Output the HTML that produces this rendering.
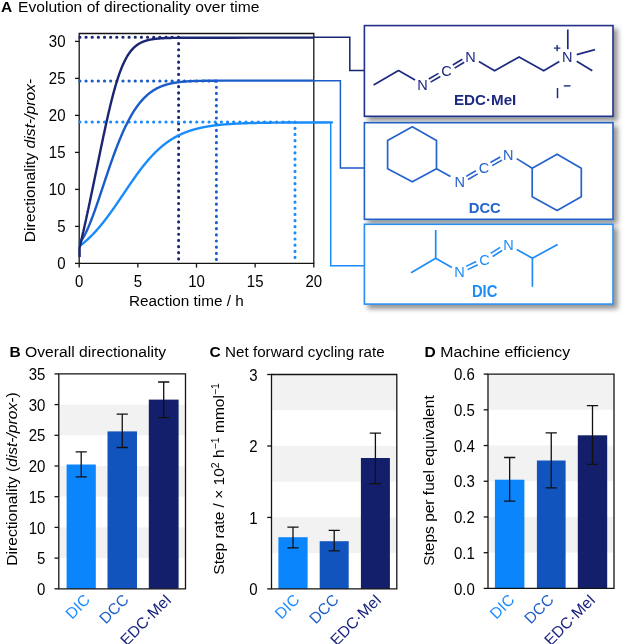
<!DOCTYPE html>
<html><head><meta charset="utf-8"><style>html,body{margin:0;padding:0;background:#fff;}svg{display:block;filter:blur(0.3px);}</style></head>
<body><svg width="627" height="644" viewBox="0 0 627 644">
<rect width="627" height="644" fill="#fff"/>
<text x="1" y="11.7" font-family="'Liberation Sans', sans-serif" font-size="15.5" fill="#000"><tspan font-weight="bold">A</tspan><tspan x="18" textLength="241.5" lengthAdjust="spacingAndGlyphs">Evolution of directionality over time</tspan></text>
<path d="M79.2,33.5V263.4H313.8V33.5Z" stroke="#141414" stroke-width="1.3" fill="none"/>
<path d="M79.8,37.33H178.6" stroke="#1a2573" stroke-width="3" stroke-linecap="round" stroke-dasharray="0.2 5.95" fill="none"/>
<path d="M178.6,37.33V262.4" stroke="#1a2573" stroke-width="3" stroke-linecap="round" stroke-dasharray="0.2 5.95" fill="none"/>
<path d="M79.8,80.99H216.4" stroke="#1a5cc8" stroke-width="3" stroke-linecap="round" stroke-dasharray="0.2 5.95" fill="none"/>
<path d="M216.4,80.99V262.4" stroke="#1a5cc8" stroke-width="3" stroke-linecap="round" stroke-dasharray="0.2 5.95" fill="none"/>
<path d="M79.8,122.06H295.0" stroke="#1a8cfa" stroke-width="3" stroke-linecap="round" stroke-dasharray="0.2 5.95" fill="none"/>
<path d="M295.0,122.06V262.4" stroke="#1a8cfa" stroke-width="3" stroke-linecap="round" stroke-dasharray="0.2 5.95" fill="none"/>
<path d="M79.60,246.09 L79.59,246.02 L79.68,245.96 L79.76,245.89 L79.85,245.83 L79.94,245.76 L80.03,245.69 L80.12,245.63 L80.21,245.56 L80.29,245.50 L80.38,245.43 L80.47,245.36 L80.56,245.30 L80.65,245.23 L80.74,245.16 L80.82,245.09 L80.91,245.03 L81.00,244.96 L81.09,244.89 L81.18,244.82 L81.26,244.75 L81.35,244.68 L81.44,244.62 L81.53,244.55 L81.62,244.48 L81.71,244.41 L81.79,244.34 L81.88,244.27 L81.97,244.20 L82.06,244.13 L82.15,244.06 L82.24,243.99 L82.32,243.92 L82.41,243.85 L82.50,243.78 L82.59,243.71 L82.68,243.64 L82.76,243.57 L82.85,243.50 L82.94,243.42 L83.03,243.35 L83.12,243.28 L83.21,243.21 L83.29,243.14 L83.38,243.06 L83.47,242.99 L83.56,242.92 L83.65,242.85 L83.74,242.77 L83.82,242.70 L83.91,242.63 L84.00,242.55 L84.09,242.48 L84.18,242.41 L84.26,242.33 L84.35,242.26 L84.44,242.18 L84.53,242.11 L84.62,242.03 L84.71,241.96 L84.79,241.88 L84.88,241.81 L84.97,241.73 L85.06,241.66 L85.15,241.58 L85.24,241.51 L85.32,241.43 L85.41,241.35 L85.50,241.28 L85.59,241.20 L85.68,241.12 L85.76,241.05 L85.85,240.97 L85.94,240.89 L86.03,240.82 L86.12,240.74 L86.21,240.66 L86.29,240.58 L86.38,240.50 L86.47,240.43 L86.56,240.35 L86.65,240.27 L86.74,240.19 L86.82,240.11 L86.91,240.03 L87.00,239.95 L87.09,239.87 L87.18,239.79 L87.26,239.71 L87.35,239.63 L87.44,239.55 L87.53,239.47 L87.62,239.39 L87.71,239.31 L87.79,239.23 L87.88,239.15 L87.97,239.07 L88.06,238.99 L88.15,238.90 L88.24,238.82 L88.32,238.74 L88.41,238.66 L88.50,238.58 L88.59,238.49 L88.68,238.41 L88.76,238.33 L88.85,238.24 L88.94,238.16 L89.03,238.08 L89.12,237.99 L89.21,237.91 L89.29,237.83 L89.38,237.74 L89.47,237.66 L89.56,237.57 L89.65,237.49 L89.74,237.40 L89.82,237.32 L89.91,237.23 L90.00,237.15 L90.10,237.05 L90.56,236.60 L91.02,236.15 L91.48,235.69 L91.94,235.22 L92.40,234.76 L92.86,234.28 L93.33,233.80 L93.79,233.32 L94.25,232.83 L94.71,232.34 L95.17,231.84 L95.63,231.34 L96.09,230.83 L96.55,230.32 L97.01,229.80 L97.47,229.28 L97.93,228.75 L98.39,228.22 L98.85,227.69 L99.31,227.15 L99.78,226.60 L100.24,226.05 L100.70,225.50 L101.16,224.94 L101.62,224.38 L102.08,223.81 L102.54,223.24 L103.00,222.66 L103.46,222.08 L103.92,221.50 L104.38,220.91 L104.84,220.32 L105.30,219.72 L105.76,219.12 L106.23,218.52 L106.69,217.91 L107.15,217.30 L107.61,216.69 L108.07,216.07 L108.53,215.44 L108.99,214.82 L109.45,214.19 L109.91,213.56 L110.37,212.92 L110.83,212.28 L111.29,211.64 L111.75,211.00 L112.21,210.35 L112.68,209.70 L113.14,209.04 L113.60,208.39 L114.06,207.73 L114.52,207.07 L114.98,206.41 L115.44,205.74 L115.90,205.07 L116.36,204.41 L116.82,203.74 L117.28,203.06 L117.74,202.39 L118.20,201.71 L118.66,201.04 L119.13,200.36 L119.59,199.68 L120.05,199.00 L120.51,198.32 L120.97,197.63 L121.43,196.95 L121.89,196.27 L122.35,195.58 L122.81,194.90 L123.27,194.22 L123.73,193.53 L124.19,192.85 L124.65,192.16 L125.11,191.48 L125.58,190.80 L126.04,190.11 L126.50,189.43 L126.96,188.75 L127.42,188.07 L127.88,187.39 L128.34,186.71 L128.80,186.03 L129.26,185.36 L129.72,184.68 L130.18,184.01 L130.64,183.34 L131.10,182.67 L131.56,182.00 L132.03,181.34 L132.49,180.68 L132.95,180.02 L133.41,179.36 L133.87,178.70 L134.33,178.05 L134.79,177.40 L135.25,176.75 L135.71,176.11 L136.17,175.46 L136.63,174.83 L137.09,174.19 L137.55,173.56 L138.02,172.93 L138.48,172.30 L138.94,171.68 L139.40,171.06 L139.86,170.45 L140.32,169.84 L140.78,169.23 L141.24,168.63 L141.70,168.03 L142.16,167.44 L142.62,166.85 L143.08,166.26 L143.54,165.68 L144.00,165.10 L144.47,164.53 L144.93,163.96 L145.39,163.39 L145.85,162.83 L146.31,162.28 L146.77,161.73 L147.23,161.18 L147.69,160.64 L148.15,160.10 L148.61,159.57 L149.07,159.04 L149.53,158.52 L149.99,158.00 L150.45,157.49 L150.92,156.98 L151.38,156.48 L151.84,155.99 L152.30,155.49 L152.76,155.01 L153.22,154.52 L153.68,154.05 L154.14,153.57 L154.60,153.11 L155.06,152.64 L155.52,152.19 L155.98,151.74 L156.44,151.29 L156.90,150.85 L157.37,150.41 L157.83,149.98 L158.29,149.55 L158.75,149.13 L159.21,148.71 L159.67,148.30 L160.13,147.89 L160.59,147.49 L161.05,147.10 L161.51,146.70 L161.97,146.32 L162.43,145.93 L162.89,145.56 L163.35,145.19 L163.82,144.82 L164.28,144.46 L164.74,144.10 L165.20,143.74 L165.66,143.40 L166.12,143.05 L166.58,142.71 L167.04,142.38 L167.50,142.05 L167.96,141.72 L168.42,141.40 L168.88,141.09 L169.34,140.78 L169.80,140.47 L170.27,140.16 L170.73,139.87 L171.19,139.57 L171.65,139.28 L172.11,139.00 L172.57,138.71 L173.03,138.44 L173.49,138.16 L173.95,137.89 L174.41,137.63 L174.87,137.37 L175.33,137.11 L175.79,136.86 L176.25,136.61 L176.72,136.36 L177.18,136.12 L177.64,135.88 L178.10,135.65 L178.56,135.42 L179.02,135.19 L179.48,134.97 L179.94,134.75 L180.40,134.53 L180.86,134.32 L181.32,134.11 L181.78,133.90 L182.24,133.70 L182.71,133.50 L183.17,133.30 L183.63,133.11 L184.09,132.92 L184.55,132.73 L185.01,132.54 L185.47,132.36 L185.93,132.18 L186.39,132.01 L186.85,131.84 L187.31,131.67 L187.77,131.50 L188.23,131.34 L188.69,131.18 L189.16,131.02 L189.62,130.86 L190.08,130.71 L190.54,130.56 L191.00,130.41 L191.46,130.27 L191.92,130.12 L192.38,129.98 L192.84,129.84 L193.30,129.71 L193.76,129.57 L194.22,129.44 L194.68,129.31 L195.14,129.19 L195.61,129.06 L196.07,128.94 L196.53,128.82 L196.99,128.70 L197.45,128.59 L197.91,128.47 L198.37,128.36 L198.83,128.25 L199.29,128.14 L199.75,128.04 L200.21,127.93 L200.67,127.83 L201.13,127.73 L201.59,127.63 L202.06,127.53 L202.52,127.44 L202.98,127.35 L203.44,127.25 L203.90,127.16 L204.36,127.08 L204.82,126.99 L205.28,126.90 L205.74,126.82 L206.20,126.74 L206.66,126.66 L207.12,126.58 L207.58,126.50 L208.04,126.42 L208.51,126.35 L208.97,126.27 L209.43,126.20 L209.89,126.13 L210.35,126.06 L210.81,125.99 L211.27,125.92 L211.73,125.86 L212.19,125.79 L212.65,125.73 L213.11,125.66 L213.57,125.60 L214.03,125.54 L214.49,125.48 L214.96,125.43 L215.42,125.37 L215.88,125.31 L216.34,125.26 L216.80,125.20 L217.26,125.15 L217.72,125.10 L218.18,125.05 L218.64,125.00 L219.10,124.95 L219.56,124.90 L220.02,124.85 L220.48,124.81 L220.94,124.76 L221.41,124.71 L221.87,124.67 L222.33,124.63 L222.79,124.59 L223.25,124.54 L223.71,124.50 L224.17,124.46 L224.63,124.42 L225.09,124.39 L225.55,124.35 L226.01,124.31 L226.47,124.27 L226.93,124.24 L227.39,124.20 L227.86,124.17 L228.32,124.13 L228.78,124.10 L229.24,124.07 L229.70,124.04 L230.16,124.01 L230.62,123.98 L231.08,123.95 L231.54,123.92 L232.00,123.89 L232.46,123.86 L232.92,123.83 L233.38,123.80 L233.85,123.78 L234.31,123.75 L234.77,123.72 L235.23,123.70 L235.69,123.67 L236.15,123.65 L236.61,123.62 L237.07,123.60 L237.53,123.58 L237.99,123.56 L238.45,123.53 L238.91,123.51 L239.37,123.49 L239.83,123.47 L240.30,123.45 L240.76,123.43 L241.22,123.41 L241.68,123.39 L242.14,123.37 L242.60,123.35 L243.06,123.33 L243.52,123.31 L243.98,123.30 L244.44,123.28 L244.90,123.26 L245.36,123.25 L245.82,123.23 L246.28,123.21 L246.75,123.20 L247.21,123.18 L247.67,123.17 L248.13,123.15 L248.59,123.14 L249.05,123.12 L249.51,123.11 L249.97,123.10 L250.43,123.08 L250.89,123.07 L251.35,123.06 L251.81,123.04 L252.27,123.03 L252.73,123.02 L253.20,123.01 L253.66,122.99 L254.12,122.98 L254.58,122.97 L255.04,122.96 L255.50,122.95 L255.96,122.94 L256.42,122.93 L256.88,122.92 L257.34,122.91 L257.80,122.90 L258.26,122.89 L258.72,122.88 L259.18,122.87 L259.65,122.86 L260.11,122.85 L260.57,122.84 L261.03,122.83 L261.49,122.83 L261.95,122.82 L262.41,122.81 L262.87,122.80 L263.33,122.79 L263.79,122.78 L264.25,122.78 L264.71,122.77 L265.17,122.76 L265.63,122.76 L266.10,122.75 L266.56,122.74 L267.02,122.73 L267.48,122.73 L267.94,122.72 L268.40,122.72 L268.86,122.71 L269.32,122.70 L269.78,122.70 L270.24,122.69 L270.70,122.69 L271.16,122.68 L271.62,122.67 L272.08,122.67 L272.55,122.66 L273.01,122.66 L273.47,122.65 L273.93,122.65 L274.39,122.64 L274.85,122.64 L275.31,122.63 L275.77,122.63 L276.23,122.62 L276.69,122.62 L277.15,122.61 L277.61,122.61 L278.07,122.61 L278.54,122.60 L279.00,122.60 L279.46,122.59 L279.92,122.59 L280.38,122.59 L280.84,122.58 L281.30,122.58 L281.76,122.58 L282.22,122.57 L282.68,122.57 L283.14,122.56 L283.60,122.56 L284.06,122.56 L284.52,122.55 L284.99,122.55 L285.45,122.55 L285.91,122.55 L286.37,122.54 L286.83,122.54 L287.29,122.54 L287.75,122.53 L288.21,122.53 L288.67,122.53 L289.13,122.53 L289.59,122.52 L290.05,122.52 L290.51,122.52 L290.97,122.52 L291.44,122.51 L291.90,122.51 L292.36,122.51 L292.82,122.51 L293.28,122.50 L293.74,122.50 L294.20,122.50 L294.66,122.50 L295.12,122.50 L295.58,122.49 L296.04,122.49 L296.50,122.49 L296.96,122.49 L297.42,122.49 L297.89,122.48 L298.35,122.48 L298.81,122.48 L299.27,122.48 L299.73,122.48 L300.19,122.47 L300.65,122.47 L301.11,122.47 L301.57,122.47 L302.03,122.47 L302.49,122.47 L302.95,122.47 L303.41,122.46 L303.87,122.46 L304.34,122.46 L304.80,122.46 L305.26,122.46 L305.72,122.46 L306.18,122.46 L306.64,122.45 L307.10,122.45 L307.56,122.45 L308.02,122.45 L308.48,122.45 L308.94,122.45 L309.40,122.45 L309.86,122.45 L310.32,122.45 L310.79,122.44 L311.25,122.44 L311.71,122.44 L332,122.4 L314,122.4" stroke="#1a8cfa" stroke-width="2.4" fill="none" stroke-linejoin="round"/>
<path d="M79.60,242.87 L79.59,242.78 L79.68,242.68 L79.76,242.57 L79.85,242.47 L79.94,242.37 L80.03,242.26 L80.12,242.16 L80.21,242.05 L80.29,241.94 L80.38,241.83 L80.47,241.71 L80.56,241.60 L80.65,241.49 L80.74,241.37 L80.82,241.25 L80.91,241.14 L81.00,241.02 L81.09,240.89 L81.18,240.77 L81.26,240.65 L81.35,240.52 L81.44,240.40 L81.53,240.27 L81.62,240.14 L81.71,240.01 L81.79,239.88 L81.88,239.75 L81.97,239.62 L82.06,239.48 L82.15,239.35 L82.24,239.21 L82.32,239.07 L82.41,238.93 L82.50,238.79 L82.59,238.65 L82.68,238.51 L82.76,238.37 L82.85,238.22 L82.94,238.07 L83.03,237.93 L83.12,237.78 L83.21,237.63 L83.29,237.48 L83.38,237.33 L83.47,237.18 L83.56,237.02 L83.65,236.87 L83.74,236.71 L83.82,236.55 L83.91,236.40 L84.00,236.24 L84.09,236.08 L84.18,235.92 L84.26,235.75 L84.35,235.59 L84.44,235.43 L84.53,235.26 L84.62,235.10 L84.71,234.93 L84.79,234.76 L84.88,234.59 L84.97,234.42 L85.06,234.25 L85.15,234.08 L85.24,233.90 L85.32,233.73 L85.41,233.56 L85.50,233.38 L85.59,233.20 L85.68,233.02 L85.76,232.85 L85.85,232.67 L85.94,232.48 L86.03,232.30 L86.12,232.12 L86.21,231.94 L86.29,231.75 L86.38,231.57 L86.47,231.38 L86.56,231.19 L86.65,231.01 L86.74,230.82 L86.82,230.63 L86.91,230.44 L87.00,230.24 L87.09,230.05 L87.18,229.86 L87.26,229.67 L87.35,229.47 L87.44,229.27 L87.53,229.08 L87.62,228.88 L87.71,228.68 L87.79,228.48 L87.88,228.28 L87.97,228.08 L88.06,227.88 L88.15,227.68 L88.24,227.48 L88.32,227.27 L88.41,227.07 L88.50,226.86 L88.59,226.66 L88.68,226.45 L88.76,226.24 L88.85,226.03 L88.94,225.82 L89.03,225.61 L89.12,225.40 L89.21,225.19 L89.29,224.98 L89.38,224.77 L89.47,224.55 L89.56,224.34 L89.65,224.12 L89.74,223.91 L89.82,223.69 L89.91,223.48 L90.00,223.26 L90.10,223.01 L90.56,221.86 L91.02,220.69 L91.48,219.50 L91.94,218.30 L92.40,217.08 L92.86,215.85 L93.33,214.61 L93.79,213.35 L94.25,212.07 L94.71,210.79 L95.17,209.50 L95.63,208.19 L96.09,206.88 L96.55,205.55 L97.01,204.22 L97.47,202.88 L97.93,201.53 L98.39,200.18 L98.85,198.82 L99.31,197.45 L99.78,196.08 L100.24,194.71 L100.70,193.33 L101.16,191.95 L101.62,190.57 L102.08,189.19 L102.54,187.80 L103.00,186.42 L103.46,185.03 L103.92,183.65 L104.38,182.27 L104.84,180.88 L105.30,179.50 L105.76,178.13 L106.23,176.75 L106.69,175.38 L107.15,174.01 L107.61,172.65 L108.07,171.29 L108.53,169.94 L108.99,168.59 L109.45,167.25 L109.91,165.91 L110.37,164.59 L110.83,163.26 L111.29,161.95 L111.75,160.65 L112.21,159.35 L112.68,158.06 L113.14,156.78 L113.60,155.51 L114.06,154.24 L114.52,152.99 L114.98,151.75 L115.44,150.52 L115.90,149.29 L116.36,148.08 L116.82,146.88 L117.28,145.69 L117.74,144.51 L118.20,143.35 L118.66,142.19 L119.13,141.05 L119.59,139.92 L120.05,138.80 L120.51,137.69 L120.97,136.59 L121.43,135.51 L121.89,134.44 L122.35,133.38 L122.81,132.34 L123.27,131.31 L123.73,130.29 L124.19,129.28 L124.65,128.29 L125.11,127.31 L125.58,126.34 L126.04,125.39 L126.50,124.45 L126.96,123.52 L127.42,122.61 L127.88,121.70 L128.34,120.82 L128.80,119.94 L129.26,119.08 L129.72,118.23 L130.18,117.40 L130.64,116.58 L131.10,115.77 L131.56,114.97 L132.03,114.19 L132.49,113.42 L132.95,112.66 L133.41,111.92 L133.87,111.19 L134.33,110.47 L134.79,109.76 L135.25,109.07 L135.71,108.39 L136.17,107.72 L136.63,107.06 L137.09,106.42 L137.55,105.79 L138.02,105.16 L138.48,104.56 L138.94,103.96 L139.40,103.37 L139.86,102.80 L140.32,102.24 L140.78,101.68 L141.24,101.14 L141.70,100.61 L142.16,100.10 L142.62,99.59 L143.08,99.09 L143.54,98.60 L144.00,98.13 L144.47,97.66 L144.93,97.20 L145.39,96.76 L145.85,96.32 L146.31,95.89 L146.77,95.48 L147.23,95.07 L147.69,94.67 L148.15,94.28 L148.61,93.90 L149.07,93.52 L149.53,93.16 L149.99,92.81 L150.45,92.46 L150.92,92.12 L151.38,91.79 L151.84,91.47 L152.30,91.15 L152.76,90.85 L153.22,90.55 L153.68,90.26 L154.14,89.97 L154.60,89.69 L155.06,89.42 L155.52,89.16 L155.98,88.90 L156.44,88.65 L156.90,88.41 L157.37,88.17 L157.83,87.94 L158.29,87.71 L158.75,87.50 L159.21,87.28 L159.67,87.07 L160.13,86.87 L160.59,86.68 L161.05,86.49 L161.51,86.30 L161.97,86.12 L162.43,85.94 L162.89,85.77 L163.35,85.61 L163.82,85.45 L164.28,85.29 L164.74,85.14 L165.20,84.99 L165.66,84.85 L166.12,84.71 L166.58,84.57 L167.04,84.44 L167.50,84.31 L167.96,84.19 L168.42,84.07 L168.88,83.95 L169.34,83.84 L169.80,83.73 L170.27,83.62 L170.73,83.52 L171.19,83.42 L171.65,83.32 L172.11,83.23 L172.57,83.14 L173.03,83.05 L173.49,82.97 L173.95,82.88 L174.41,82.80 L174.87,82.73 L175.33,82.65 L175.79,82.58 L176.25,82.51 L176.72,82.44 L177.18,82.38 L177.64,82.31 L178.10,82.25 L178.56,82.19 L179.02,82.13 L179.48,82.08 L179.94,82.03 L180.40,81.97 L180.86,81.92 L181.32,81.88 L181.78,81.83 L182.24,81.78 L182.71,81.74 L183.17,81.70 L183.63,81.66 L184.09,81.62 L184.55,81.58 L185.01,81.54 L185.47,81.51 L185.93,81.48 L186.39,81.44 L186.85,81.41 L187.31,81.38 L187.77,81.35 L188.23,81.32 L188.69,81.30 L189.16,81.27 L189.62,81.24 L190.08,81.22 L190.54,81.20 L191.00,81.17 L191.46,81.15 L191.92,81.13 L192.38,81.11 L192.84,81.09 L193.30,81.07 L193.76,81.05 L194.22,81.04 L194.68,81.02 L195.14,81.00 L195.61,80.99 L196.07,80.97 L196.53,80.96 L196.99,80.95 L197.45,80.93 L197.91,80.92 L198.37,80.91 L198.83,80.90 L199.29,80.89 L199.75,80.87 L200.21,80.86 L200.67,80.85 L201.13,80.84 L201.59,80.84 L202.06,80.83 L202.52,80.82 L202.98,80.81 L203.44,80.80 L203.90,80.79 L204.36,80.79 L204.82,80.78 L205.28,80.77 L205.74,80.77 L206.20,80.76 L206.66,80.76 L207.12,80.75 L207.58,80.75 L208.04,80.74 L208.51,80.74 L208.97,80.73 L209.43,80.73 L209.89,80.72 L210.35,80.72 L210.81,80.71 L211.27,80.71 L211.73,80.71 L212.19,80.70 L212.65,80.70 L213.11,80.70 L213.57,80.69 L214.03,80.69 L214.49,80.69 L214.96,80.68 L215.42,80.68 L215.88,80.68 L216.34,80.68 L216.80,80.68 L217.26,80.67 L217.72,80.67 L218.18,80.67 L218.64,80.67 L219.10,80.67 L219.56,80.66 L220.02,80.66 L220.48,80.66 L220.94,80.66 L221.41,80.66 L221.87,80.66 L222.33,80.66 L222.79,80.65 L223.25,80.65 L223.71,80.65 L224.17,80.65 L224.63,80.65 L225.09,80.65 L225.55,80.65 L226.01,80.65 L226.47,80.65 L226.93,80.65 L227.39,80.65 L227.86,80.64 L228.32,80.64 L228.78,80.64 L229.24,80.64 L229.70,80.64 L230.16,80.64 L230.62,80.64 L231.08,80.64 L231.54,80.64 L232.00,80.64 L232.46,80.64 L232.92,80.64 L233.38,80.64 L233.85,80.64 L234.31,80.64 L234.77,80.64 L235.23,80.64 L235.69,80.64 L236.15,80.64 L236.61,80.64 L237.07,80.64 L237.53,80.64 L237.99,80.63 L238.45,80.63 L238.91,80.63 L239.37,80.63 L239.83,80.63 L240.30,80.63 L240.76,80.63 L241.22,80.63 L241.68,80.63 L242.14,80.63 L242.60,80.63 L243.06,80.63 L243.52,80.63 L243.98,80.63 L244.44,80.63 L244.90,80.63 L245.36,80.63 L245.82,80.63 L246.28,80.63 L246.75,80.63 L247.21,80.63 L247.67,80.63 L248.13,80.63 L248.59,80.63 L249.05,80.63 L249.51,80.63 L249.97,80.63 L270,80.65 L314,80.65" stroke="#1a5cc8" stroke-width="2.4" fill="none" stroke-linejoin="round"/>
<path d="M79.60,257.00 L79.60,248.11 L79.59,247.74 L79.68,247.36 L79.76,246.99 L79.85,246.61 L79.94,246.24 L80.03,245.86 L80.12,245.48 L80.21,245.11 L80.29,244.73 L80.38,244.35 L80.47,243.97 L80.56,243.59 L80.65,243.21 L80.74,242.83 L80.82,242.45 L80.91,242.07 L81.00,241.69 L81.09,241.31 L81.18,240.93 L81.26,240.54 L81.35,240.16 L81.44,239.78 L81.53,239.40 L81.62,239.01 L81.71,238.63 L81.79,238.24 L81.88,237.86 L81.97,237.47 L82.06,237.09 L82.15,236.70 L82.24,236.31 L82.32,235.93 L82.41,235.54 L82.50,235.15 L82.59,234.76 L82.68,234.38 L82.76,233.99 L82.85,233.60 L82.94,233.21 L83.03,232.82 L83.12,232.43 L83.21,232.04 L83.29,231.65 L83.38,231.25 L83.47,230.86 L83.56,230.47 L83.65,230.08 L83.74,229.68 L83.82,229.29 L83.91,228.90 L84.00,228.50 L84.09,228.11 L84.18,227.71 L84.26,227.32 L84.35,226.92 L84.44,226.53 L84.53,226.13 L84.62,225.73 L84.71,225.34 L84.79,224.94 L84.88,224.54 L84.97,224.14 L85.06,223.74 L85.15,223.34 L85.24,222.94 L85.32,222.54 L85.41,222.14 L85.50,221.74 L85.59,221.34 L85.68,220.94 L85.76,220.54 L85.85,220.14 L85.94,219.74 L86.03,219.33 L86.12,218.93 L86.21,218.53 L86.29,218.12 L86.38,217.72 L86.47,217.32 L86.56,216.91 L86.65,216.51 L86.74,216.10 L86.82,215.70 L86.91,215.29 L87.00,214.88 L87.09,214.48 L87.18,214.07 L87.26,213.66 L87.35,213.25 L87.44,212.85 L87.53,212.44 L87.62,212.03 L87.71,211.62 L87.79,211.21 L87.88,210.80 L87.97,210.39 L88.06,209.98 L88.15,209.57 L88.24,209.16 L88.32,208.75 L88.41,208.34 L88.50,207.93 L88.59,207.51 L88.68,207.10 L88.76,206.69 L88.85,206.28 L88.94,205.86 L89.03,205.45 L89.12,205.04 L89.21,204.62 L89.29,204.21 L89.38,203.79 L89.47,203.38 L89.56,202.96 L89.65,202.55 L89.74,202.13 L89.82,201.71 L89.91,201.30 L90.00,200.88 L90.10,200.41 L90.56,198.23 L91.02,196.04 L91.48,193.84 L91.94,191.64 L92.40,189.43 L92.86,187.22 L93.33,185.00 L93.79,182.78 L94.25,180.55 L94.71,178.32 L95.17,176.09 L95.63,173.86 L96.09,171.62 L96.55,169.38 L97.01,167.14 L97.47,164.90 L97.93,162.66 L98.39,160.42 L98.85,158.18 L99.31,155.95 L99.78,153.72 L100.24,151.49 L100.70,149.27 L101.16,147.06 L101.62,144.85 L102.08,142.64 L102.54,140.45 L103.00,138.27 L103.46,136.09 L103.92,133.93 L104.38,131.78 L104.84,129.64 L105.30,127.51 L105.76,125.40 L106.23,123.31 L106.69,121.23 L107.15,119.17 L107.61,117.12 L108.07,115.10 L108.53,113.10 L108.99,111.12 L109.45,109.16 L109.91,107.22 L110.37,105.31 L110.83,103.43 L111.29,101.56 L111.75,99.73 L112.21,97.92 L112.68,96.14 L113.14,94.39 L113.60,92.67 L114.06,90.98 L114.52,89.32 L114.98,87.69 L115.44,86.09 L115.90,84.52 L116.36,82.99 L116.82,81.48 L117.28,80.01 L117.74,78.58 L118.20,77.18 L118.66,75.81 L119.13,74.47 L119.59,73.17 L120.05,71.90 L120.51,70.66 L120.97,69.46 L121.43,68.29 L121.89,67.16 L122.35,66.05 L122.81,64.98 L123.27,63.94 L123.73,62.93 L124.19,61.96 L124.65,61.01 L125.11,60.10 L125.58,59.21 L126.04,58.35 L126.50,57.53 L126.96,56.73 L127.42,55.95 L127.88,55.21 L128.34,54.49 L128.80,53.80 L129.26,53.13 L129.72,52.48 L130.18,51.86 L130.64,51.27 L131.10,50.69 L131.56,50.14 L132.03,49.61 L132.49,49.10 L132.95,48.61 L133.41,48.14 L133.87,47.69 L134.33,47.25 L134.79,46.84 L135.25,46.44 L135.71,46.05 L136.17,45.69 L136.63,45.33 L137.09,45.00 L137.55,44.67 L138.02,44.36 L138.48,44.07 L138.94,43.78 L139.40,43.51 L139.86,43.25 L140.32,43.00 L140.78,42.76 L141.24,42.53 L141.70,42.31 L142.16,42.11 L142.62,41.91 L143.08,41.72 L143.54,41.53 L144.00,41.36 L144.47,41.19 L144.93,41.03 L145.39,40.88 L145.85,40.74 L146.31,40.60 L146.77,40.46 L147.23,40.34 L147.69,40.22 L148.15,40.10 L148.61,39.99 L149.07,39.89 L149.53,39.79 L149.99,39.69 L150.45,39.60 L150.92,39.51 L151.38,39.43 L151.84,39.35 L152.30,39.27 L152.76,39.20 L153.22,39.13 L153.68,39.06 L154.14,39.00 L154.60,38.94 L155.06,38.88 L155.52,38.83 L155.98,38.78 L156.44,38.73 L156.90,38.68 L157.37,38.64 L157.83,38.59 L158.29,38.55 L158.75,38.51 L159.21,38.48 L159.67,38.44 L160.13,38.41 L160.59,38.37 L161.05,38.34 L161.51,38.31 L161.97,38.28 L162.43,38.26 L162.89,38.23 L163.35,38.21 L163.82,38.19 L164.28,38.16 L164.74,38.14 L165.20,38.12 L165.66,38.10 L166.12,38.08 L166.58,38.07 L167.04,38.05 L167.50,38.03 L167.96,38.02 L168.42,38.00 L168.88,37.99 L169.34,37.98 L169.80,37.97 L170.27,37.95 L170.73,37.94 L171.19,37.93 L171.65,37.92 L172.11,37.91 L172.57,37.90 L173.03,37.89 L173.49,37.88 L173.95,37.88 L174.41,37.87 L174.87,37.86 L175.33,37.85 L175.79,37.85 L176.25,37.84 L176.72,37.84 L177.18,37.83 L177.64,37.82 L178.10,37.82 L178.56,37.81 L179.02,37.81 L179.48,37.80 L179.94,37.80 L180.40,37.80 L180.86,37.79 L181.32,37.79 L181.78,37.78 L182.24,37.78 L182.71,37.78 L183.17,37.78 L183.63,37.77 L184.09,37.77 L184.55,37.77 L185.01,37.76 L185.47,37.76 L185.93,37.76 L186.39,37.76 L186.85,37.75 L187.31,37.75 L187.77,37.75 L188.23,37.75 L188.69,37.75 L189.16,37.75 L189.62,37.74 L190.08,37.74 L190.54,37.74 L191.00,37.74 L191.46,37.74 L191.92,37.74 L192.38,37.74 L192.84,37.74 L193.30,37.73 L193.76,37.73 L194.22,37.73 L194.68,37.73 L195.14,37.73 L195.61,37.73 L196.07,37.73 L196.53,37.73 L196.99,37.73 L197.45,37.73 L197.91,37.73 L198.37,37.73 L198.83,37.72 L199.29,37.72 L199.75,37.72 L200.21,37.72 L200.67,37.72 L201.13,37.72 L201.59,37.72 L202.06,37.72 L202.52,37.72 L202.98,37.72 L203.44,37.72 L203.90,37.72 L204.36,37.72 L204.82,37.72 L205.28,37.72 L205.74,37.72 L206.20,37.72 L206.66,37.72 L207.12,37.72 L207.58,37.72 L208.04,37.72 L208.51,37.72 L208.97,37.72 L209.43,37.72 L209.89,37.72 L210.35,37.72 L210.81,37.72 L211.27,37.72 L211.73,37.72 L212.19,37.72 L212.65,37.72 L213.11,37.71 L213.57,37.71 L214.03,37.71 L214.49,37.71 L214.96,37.71 L215.42,37.71 L215.88,37.71 L216.34,37.71 L216.80,37.71 L217.26,37.71 L217.72,37.71 L218.18,37.71 L218.64,37.71 L219.10,37.71 L219.56,37.71 L220.02,37.71 L220.48,37.71 L220.94,37.71 L221.41,37.71 L221.87,37.71 L222.33,37.71 L222.79,37.71 L223.25,37.71 L223.71,37.71 L224.17,37.71 L224.63,37.71 L225.09,37.71 L225.55,37.71 L226.01,37.71 L226.47,37.71 L226.93,37.71 L227.39,37.71 L227.86,37.71 L228.32,37.71 L228.78,37.71 L229.24,37.71 L229.70,37.71 L250,37.6 L314,37.6" stroke="#1a2573" stroke-width="2.4" fill="none" stroke-linejoin="round"/>
<path d="M75,263.40H79.2" stroke="#141414" stroke-width="1.3"/>
<text transform="translate(65.5,268.90) scale(1,1.07)" font-family="'Liberation Sans', sans-serif" font-size="15" text-anchor="end" fill="#000">0</text>
<path d="M75,226.40H79.2" stroke="#141414" stroke-width="1.3"/>
<text transform="translate(65.5,231.90) scale(1,1.07)" font-family="'Liberation Sans', sans-serif" font-size="15" text-anchor="end" fill="#000">5</text>
<path d="M75,189.40H79.2" stroke="#141414" stroke-width="1.3"/>
<text transform="translate(65.5,194.90) scale(1,1.07)" font-family="'Liberation Sans', sans-serif" font-size="15" text-anchor="end" fill="#000">10</text>
<path d="M75,152.40H79.2" stroke="#141414" stroke-width="1.3"/>
<text transform="translate(65.5,157.90) scale(1,1.07)" font-family="'Liberation Sans', sans-serif" font-size="15" text-anchor="end" fill="#000">15</text>
<path d="M75,115.40H79.2" stroke="#141414" stroke-width="1.3"/>
<text transform="translate(65.5,120.90) scale(1,1.07)" font-family="'Liberation Sans', sans-serif" font-size="15" text-anchor="end" fill="#000">20</text>
<path d="M75,78.40H79.2" stroke="#141414" stroke-width="1.3"/>
<text transform="translate(65.5,83.90) scale(1,1.07)" font-family="'Liberation Sans', sans-serif" font-size="15" text-anchor="end" fill="#000">25</text>
<path d="M75,41.40H79.2" stroke="#141414" stroke-width="1.3"/>
<text transform="translate(65.5,46.90) scale(1,1.07)" font-family="'Liberation Sans', sans-serif" font-size="15" text-anchor="end" fill="#000">30</text>
<path d="M79.20,263.4V267.6" stroke="#141414" stroke-width="1.3"/>
<text transform="translate(79.20,287.2) scale(1,1.07)" font-family="'Liberation Sans', sans-serif" font-size="15" text-anchor="middle" fill="#000">0</text>
<path d="M137.85,263.4V267.6" stroke="#141414" stroke-width="1.3"/>
<text transform="translate(137.85,287.2) scale(1,1.07)" font-family="'Liberation Sans', sans-serif" font-size="15" text-anchor="middle" fill="#000">5</text>
<path d="M196.50,263.4V267.6" stroke="#141414" stroke-width="1.3"/>
<text transform="translate(196.50,287.2) scale(1,1.07)" font-family="'Liberation Sans', sans-serif" font-size="15" text-anchor="middle" fill="#000">10</text>
<path d="M255.15,263.4V267.6" stroke="#141414" stroke-width="1.3"/>
<text transform="translate(255.15,287.2) scale(1,1.07)" font-family="'Liberation Sans', sans-serif" font-size="15" text-anchor="middle" fill="#000">15</text>
<path d="M313.80,263.4V267.6" stroke="#141414" stroke-width="1.3"/>
<text transform="translate(313.80,287.2) scale(1,1.07)" font-family="'Liberation Sans', sans-serif" font-size="15" text-anchor="middle" fill="#000">20</text>
<text x="129" y="305.5" font-family="'Liberation Sans', sans-serif" font-size="15.3" fill="#000">Reaction time / h</text>
<text transform="translate(34.5,242.3) rotate(-90)" font-family="'Liberation Sans', sans-serif" font-size="15.5" fill="#000" textLength="163.5" lengthAdjust="spacingAndGlyphs">Directionality <tspan font-style="italic">dist-/prox-</tspan></text>
<path d="M314,37.3H349.8V70.4H364.4" stroke="#1a2573" stroke-width="1.5" fill="none"/>
<path d="M314,80.8H340.4V168H364.4" stroke="#1a5cc8" stroke-width="1.5" fill="none"/>
<path d="M314,122.4H330.7V265.8H364.4" stroke="#1a8cfa" stroke-width="1.5" fill="none"/>
<defs><filter id="sh" x="-10%" y="-10%" width="130%" height="140%"><feGaussianBlur in="SourceAlpha" stdDeviation="2.8"/><feOffset dx="4" dy="4" result="b"/><feFlood flood-color="#000" flood-opacity="0.42"/><feComposite in2="b" operator="in"/><feMerge><feMergeNode/><feMergeNode in="SourceGraphic"/></feMerge></filter></defs>
<rect x="364.4" y="25.6" width="248.6" height="90.7" fill="#fff" stroke="#24308a" stroke-width="1.6" filter="url(#sh)"/>
<rect x="364.4" y="122.7" width="248.6" height="96.6" fill="#fff" stroke="#2360c6" stroke-width="1.6" filter="url(#sh)"/>
<rect x="364.4" y="224.3" width="248.6" height="79.8" fill="#fff" stroke="#2b8ef0" stroke-width="1.6" filter="url(#sh)"/>
<g font-family="'Liberation Sans', sans-serif" fill="#000"></g>
<path d="M373.60,85.10 L398.50,70.60 L415.10,80.10" stroke="#1e2a80" stroke-width="1.7" fill="none" stroke-linejoin="round" stroke-linecap="butt"/>
<text x="422.50" y="89.89" font-family="'Liberation Sans', sans-serif" font-size="14.5" text-anchor="middle" fill="#1e2a80">N</text>
<text x="446.60" y="75.99" font-family="'Liberation Sans', sans-serif" font-size="14.5" text-anchor="middle" fill="#1e2a80">C</text>
<text x="470.40" y="61.69" font-family="'Liberation Sans', sans-serif" font-size="14.5" text-anchor="middle" fill="#1e2a80">N</text>
<path d="M430.60,82.11L440.30,76.51" stroke="#1e2a80" stroke-width="1.6"/>
<path d="M428.80,78.99L438.50,73.39" stroke="#1e2a80" stroke-width="1.6"/>
<path d="M454.63,68.08L464.23,62.31" stroke="#1e2a80" stroke-width="1.6"/>
<path d="M452.77,64.99L462.37,59.22" stroke="#1e2a80" stroke-width="1.6"/>
<path d="M478.90,61.50 L494.60,70.80 L519.10,56.90 L543.70,70.80 L559.30,61.50" stroke="#1e2a80" stroke-width="1.7" fill="none" stroke-linejoin="round" stroke-linecap="butt"/>
<text x="567.30" y="62.30" font-family="'Liberation Sans', sans-serif" font-size="14.5" text-anchor="middle" fill="#1e2a80">N</text>
<path d="M553.9,48.1H560.4M557.15,44.9V51.3" stroke="#1e2a80" stroke-width="1.4"/>
<path d="M567.80,29.50 L567.80,49.20" stroke="#1e2a80" stroke-width="1.7" fill="none" stroke-linejoin="round" stroke-linecap="butt"/>
<path d="M576.70,54.60 L595.00,49.60" stroke="#1e2a80" stroke-width="1.7" fill="none" stroke-linejoin="round" stroke-linecap="butt"/>
<path d="M576.70,61.20 L592.30,70.80" stroke="#1e2a80" stroke-width="1.7" fill="none" stroke-linejoin="round" stroke-linecap="butt"/>
<path d="M557.5,88V98.2" stroke="#1e2a80" stroke-width="1.5"/>
<path d="M563.8,85.9H570.5" stroke="#1e2a80" stroke-width="1.4"/>
<text x="453.90" y="104.50" font-family="'Liberation Sans', sans-serif" font-size="14.6" font-weight="bold" fill="#1e2a80" textLength="62.40" lengthAdjust="spacingAndGlyphs">EDC·MeI</text>
<path d="M412.3,126.8 L436.5,140.6 L436.5,168.7 L412.3,181.8 L387.6,168.7 L387.6,140.6Z" stroke="#2463cc" stroke-width="1.7" fill="none" stroke-linejoin="round"/>
<path d="M436.50,168.70 L450.50,176.50" stroke="#2463cc" stroke-width="1.7" fill="none" stroke-linejoin="round" stroke-linecap="butt"/>
<text x="459.80" y="187.29" font-family="'Liberation Sans', sans-serif" font-size="14.5" text-anchor="middle" fill="#2463cc">N</text>
<text x="484.10" y="173.29" font-family="'Liberation Sans', sans-serif" font-size="14.5" text-anchor="middle" fill="#2463cc">C</text>
<text x="508.30" y="159.69" font-family="'Liberation Sans', sans-serif" font-size="14.5" text-anchor="middle" fill="#2463cc">N</text>
<path d="M468.00,179.46L477.70,173.86" stroke="#2463cc" stroke-width="1.6"/>
<path d="M466.20,176.34L475.90,170.74" stroke="#2463cc" stroke-width="1.6"/>
<path d="M492.20,165.61L501.96,160.13" stroke="#2463cc" stroke-width="1.6"/>
<path d="M490.44,162.47L500.20,156.99" stroke="#2463cc" stroke-width="1.6"/>
<path d="M516.70,158.60 L532.20,168.30" stroke="#2463cc" stroke-width="1.7" fill="none" stroke-linejoin="round" stroke-linecap="butt"/>
<path d="M532.2,168.3 L557.1,154.2 L581.3,168.3 L581.3,196.7 L557.1,210.4 L532.2,196.7Z" stroke="#2463cc" stroke-width="1.7" fill="none" stroke-linejoin="round"/>
<text x="468.70" y="212.50" font-family="'Liberation Sans', sans-serif" font-size="15.4" font-weight="bold" fill="#2463cc" textLength="32.10" lengthAdjust="spacingAndGlyphs">DCC</text>
<path d="M435.70,230.00 L435.70,258.30" stroke="#1e8cf5" stroke-width="1.7" fill="none" stroke-linejoin="round" stroke-linecap="butt"/>
<path d="M411.10,272.80 L435.70,258.30 L451.90,267.40" stroke="#1e8cf5" stroke-width="1.7" fill="none" stroke-linejoin="round" stroke-linecap="butt"/>
<text x="459.40" y="276.79" font-family="'Liberation Sans', sans-serif" font-size="14.5" text-anchor="middle" fill="#1e8cf5">N</text>
<text x="484.40" y="264.69" font-family="'Liberation Sans', sans-serif" font-size="14.5" text-anchor="middle" fill="#1e8cf5">C</text>
<text x="508.40" y="249.59" font-family="'Liberation Sans', sans-serif" font-size="14.5" text-anchor="middle" fill="#1e8cf5">N</text>
<path d="M467.64,269.61L477.72,264.73" stroke="#1e8cf5" stroke-width="1.6"/>
<path d="M466.08,266.37L476.16,261.49" stroke="#1e8cf5" stroke-width="1.6"/>
<path d="M492.62,256.46L502.10,250.49" stroke="#1e8cf5" stroke-width="1.6"/>
<path d="M490.70,253.41L500.18,247.44" stroke="#1e8cf5" stroke-width="1.6"/>
<path d="M516.70,249.40 L532.40,258.20 L557.60,244.40" stroke="#1e8cf5" stroke-width="1.7" fill="none" stroke-linejoin="round" stroke-linecap="butt"/>
<path d="M532.40,258.20 L532.40,286.80" stroke="#1e8cf5" stroke-width="1.7" fill="none" stroke-linejoin="round" stroke-linecap="butt"/>
<text x="471.90" y="296.80" font-family="'Liberation Sans', sans-serif" font-size="16" font-weight="bold" fill="#1e8cf5" textLength="25.40" lengthAdjust="spacingAndGlyphs">DIC</text>
<text x="9.4" y="357.3" font-family="'Liberation Sans', sans-serif" font-size="15.5" fill="#000"><tspan font-weight="bold">B</tspan><tspan x="25.1" textLength="141" lengthAdjust="spacingAndGlyphs">Overall directionality</tspan></text>
<rect x="59.5" y="527.40" width="125.30" height="30.70" fill="#f2f2f2"/>
<rect x="59.5" y="466.00" width="125.30" height="30.70" fill="#f2f2f2"/>
<rect x="59.5" y="404.60" width="125.30" height="30.70" fill="#f2f2f2"/>
<rect x="66.6" y="464.5" width="29.20" height="124.30" fill="#0a85fb"/>
<rect x="107.5" y="431.4" width="29.50" height="157.40" fill="#1254be"/>
<rect x="148.8" y="399.6" width="29.80" height="189.20" fill="#131f6b"/>
<path d="M81.20,451.9V476.8M75.60,451.9H86.80M75.60,476.8H86.80" stroke="#111" stroke-width="1.3" fill="none"/>
<path d="M122.25,414.2V447.5M116.65,414.2H127.85M116.65,447.5H127.85" stroke="#111" stroke-width="1.3" fill="none"/>
<path d="M163.70,382.0V417.7M158.10,382.0H169.30M158.10,417.7H169.30" stroke="#111" stroke-width="1.3" fill="none"/>
<path d="M58.8,373.9V588.8H185.5V373.9Z" stroke="#141414" stroke-width="1.3" fill="none"/>
<path d="M54.50,588.80H58.8" stroke="#141414" stroke-width="1.3"/>
<text transform="translate(45.3,594.90) scale(1,1.07)" font-family="'Liberation Sans', sans-serif" font-size="15" text-anchor="end" fill="#000">0</text>
<path d="M54.50,558.10H58.8" stroke="#141414" stroke-width="1.3"/>
<text transform="translate(45.3,564.20) scale(1,1.07)" font-family="'Liberation Sans', sans-serif" font-size="15" text-anchor="end" fill="#000">5</text>
<path d="M54.50,527.40H58.8" stroke="#141414" stroke-width="1.3"/>
<text transform="translate(45.3,533.50) scale(1,1.07)" font-family="'Liberation Sans', sans-serif" font-size="15" text-anchor="end" fill="#000">10</text>
<path d="M54.50,496.70H58.8" stroke="#141414" stroke-width="1.3"/>
<text transform="translate(45.3,502.80) scale(1,1.07)" font-family="'Liberation Sans', sans-serif" font-size="15" text-anchor="end" fill="#000">15</text>
<path d="M54.50,466.00H58.8" stroke="#141414" stroke-width="1.3"/>
<text transform="translate(45.3,472.10) scale(1,1.07)" font-family="'Liberation Sans', sans-serif" font-size="15" text-anchor="end" fill="#000">20</text>
<path d="M54.50,435.30H58.8" stroke="#141414" stroke-width="1.3"/>
<text transform="translate(45.3,441.40) scale(1,1.07)" font-family="'Liberation Sans', sans-serif" font-size="15" text-anchor="end" fill="#000">25</text>
<path d="M54.50,404.60H58.8" stroke="#141414" stroke-width="1.3"/>
<text transform="translate(45.3,410.70) scale(1,1.07)" font-family="'Liberation Sans', sans-serif" font-size="15" text-anchor="end" fill="#000">30</text>
<path d="M54.50,373.90H58.8" stroke="#141414" stroke-width="1.3"/>
<text transform="translate(45.3,380.00) scale(1,1.07)" font-family="'Liberation Sans', sans-serif" font-size="15" text-anchor="end" fill="#000">35</text>
<text transform="translate(91.10,600.8) rotate(-45)" font-family="'Liberation Sans', sans-serif" font-size="15.7" text-anchor="end" fill="#1a8cff">DIC</text>
<text transform="translate(129.80,600.8) rotate(-45)" font-family="'Liberation Sans', sans-serif" font-size="15.7" text-anchor="end" fill="#1f5fc8">DCC</text>
<text transform="translate(172.30,600.8) rotate(-45)" font-family="'Liberation Sans', sans-serif" font-size="15.7" text-anchor="end" fill="#1a237e">EDC·MeI</text>
<text transform="translate(17.4,565.7) rotate(-90)" font-family="'Liberation Sans', sans-serif" font-size="15.5" fill="#000" textLength="173.3" lengthAdjust="spacingAndGlyphs">Directionality (<tspan font-style="italic">dist-/prox-</tspan>)</text>
<text x="209.4" y="357.3" font-family="'Liberation Sans', sans-serif" font-size="15.5" fill="#000"><tspan font-weight="bold">C</tspan><tspan x="225.1" textLength="159.5" lengthAdjust="spacingAndGlyphs">Net forward cycling rate</tspan></text>
<rect x="272.2" y="517.43" width="123.90" height="35.73" fill="#f2f2f2"/>
<rect x="272.2" y="445.97" width="123.90" height="35.73" fill="#f2f2f2"/>
<rect x="272.2" y="374.50" width="123.90" height="35.73" fill="#f2f2f2"/>
<rect x="278.4" y="537.2" width="29.20" height="51.70" fill="#0a85fb"/>
<rect x="319.7" y="541.2" width="29.00" height="47.70" fill="#1254be"/>
<rect x="360.9" y="458" width="29.00" height="130.90" fill="#131f6b"/>
<path d="M293.00,527.2V547.8M287.40,527.2H298.60M287.40,547.8H298.60" stroke="#111" stroke-width="1.3" fill="none"/>
<path d="M334.20,530.3V550.9M328.60,530.3H339.80M328.60,550.9H339.80" stroke="#111" stroke-width="1.3" fill="none"/>
<path d="M375.40,433.2V483.6M369.80,433.2H381.00M369.80,483.6H381.00" stroke="#111" stroke-width="1.3" fill="none"/>
<path d="M271.5,374.5V588.9H396.8V374.5Z" stroke="#141414" stroke-width="1.3" fill="none"/>
<path d="M267.20,588.90H271.5" stroke="#141414" stroke-width="1.3"/>
<text transform="translate(257.5,595.00) scale(1,1.07)" font-family="'Liberation Sans', sans-serif" font-size="15" text-anchor="end" fill="#000">0</text>
<path d="M267.20,517.43H271.5" stroke="#141414" stroke-width="1.3"/>
<text transform="translate(257.5,523.53) scale(1,1.07)" font-family="'Liberation Sans', sans-serif" font-size="15" text-anchor="end" fill="#000">1</text>
<path d="M267.20,445.97H271.5" stroke="#141414" stroke-width="1.3"/>
<text transform="translate(257.5,452.07) scale(1,1.07)" font-family="'Liberation Sans', sans-serif" font-size="15" text-anchor="end" fill="#000">2</text>
<path d="M267.20,374.50H271.5" stroke="#141414" stroke-width="1.3"/>
<text transform="translate(257.5,380.60) scale(1,1.07)" font-family="'Liberation Sans', sans-serif" font-size="15" text-anchor="end" fill="#000">3</text>
<text transform="translate(300.40,600.8) rotate(-45)" font-family="'Liberation Sans', sans-serif" font-size="15.7" text-anchor="end" fill="#1a8cff">DIC</text>
<text transform="translate(339.80,600.8) rotate(-45)" font-family="'Liberation Sans', sans-serif" font-size="15.7" text-anchor="end" fill="#1f5fc8">DCC</text>
<text transform="translate(382.30,600.8) rotate(-45)" font-family="'Liberation Sans', sans-serif" font-size="15.7" text-anchor="end" fill="#1a237e">EDC·MeI</text>
<text transform="translate(223.9,574.7) rotate(-90)" font-family="'Liberation Sans', sans-serif" font-size="15.5" fill="#000" textLength="191.6" lengthAdjust="spacingAndGlyphs">Step rate / × 10<tspan font-size="10.5" dy="-4.6">2</tspan><tspan dy="4.6"> h</tspan><tspan font-size="10.5" dy="-4.6">−1</tspan><tspan dy="4.6"> mmol</tspan><tspan font-size="10.5" dy="-4.6">−1</tspan></text>
<text x="424.5" y="357.3" font-family="'Liberation Sans', sans-serif" font-size="15.5" fill="#000"><tspan font-weight="bold">D</tspan><tspan x="440.2" textLength="130" lengthAdjust="spacingAndGlyphs">Machine efficiency</tspan></text>
<rect x="488.7" y="516.97" width="124.60" height="35.72" fill="#f2f2f2"/>
<rect x="488.7" y="445.53" width="124.60" height="35.72" fill="#f2f2f2"/>
<rect x="488.7" y="374.10" width="124.60" height="35.72" fill="#f2f2f2"/>
<rect x="494.9" y="479.7" width="29.50" height="108.70" fill="#0a85fb"/>
<rect x="536.9" y="460.5" width="28.70" height="127.90" fill="#1254be"/>
<rect x="577.8" y="435.3" width="29.40" height="153.10" fill="#131f6b"/>
<path d="M509.65,457.5V501.2M504.05,457.5H515.25M504.05,501.2H515.25" stroke="#111" stroke-width="1.3" fill="none"/>
<path d="M551.25,432.9V487.8M545.65,432.9H556.85M545.65,487.8H556.85" stroke="#111" stroke-width="1.3" fill="none"/>
<path d="M592.50,405.6V464.3M586.90,405.6H598.10M586.90,464.3H598.10" stroke="#111" stroke-width="1.3" fill="none"/>
<path d="M488,374.1V588.4H614V374.1Z" stroke="#141414" stroke-width="1.3" fill="none"/>
<path d="M483.70,588.40H488" stroke="#141414" stroke-width="1.3"/>
<text transform="translate(474.8,594.50) scale(1,1.07)" font-family="'Liberation Sans', sans-serif" font-size="15" text-anchor="end" fill="#000">0.0</text>
<path d="M483.70,552.68H488" stroke="#141414" stroke-width="1.3"/>
<text transform="translate(474.8,558.78) scale(1,1.07)" font-family="'Liberation Sans', sans-serif" font-size="15" text-anchor="end" fill="#000">0.1</text>
<path d="M483.70,516.97H488" stroke="#141414" stroke-width="1.3"/>
<text transform="translate(474.8,523.07) scale(1,1.07)" font-family="'Liberation Sans', sans-serif" font-size="15" text-anchor="end" fill="#000">0.2</text>
<path d="M483.70,481.25H488" stroke="#141414" stroke-width="1.3"/>
<text transform="translate(474.8,487.35) scale(1,1.07)" font-family="'Liberation Sans', sans-serif" font-size="15" text-anchor="end" fill="#000">0.3</text>
<path d="M483.70,445.53H488" stroke="#141414" stroke-width="1.3"/>
<text transform="translate(474.8,451.63) scale(1,1.07)" font-family="'Liberation Sans', sans-serif" font-size="15" text-anchor="end" fill="#000">0.4</text>
<path d="M483.70,409.82H488" stroke="#141414" stroke-width="1.3"/>
<text transform="translate(474.8,415.92) scale(1,1.07)" font-family="'Liberation Sans', sans-serif" font-size="15" text-anchor="end" fill="#000">0.5</text>
<path d="M483.70,374.10H488" stroke="#141414" stroke-width="1.3"/>
<text transform="translate(474.8,380.20) scale(1,1.07)" font-family="'Liberation Sans', sans-serif" font-size="15" text-anchor="end" fill="#000">0.6</text>
<text transform="translate(515.40,600.8) rotate(-45)" font-family="'Liberation Sans', sans-serif" font-size="15.7" text-anchor="end" fill="#1a8cff">DIC</text>
<text transform="translate(554.80,600.8) rotate(-45)" font-family="'Liberation Sans', sans-serif" font-size="15.7" text-anchor="end" fill="#1f5fc8">DCC</text>
<text transform="translate(596.30,600.8) rotate(-45)" font-family="'Liberation Sans', sans-serif" font-size="15.7" text-anchor="end" fill="#1a237e">EDC·MeI</text>
<text transform="translate(434.4,565.8) rotate(-90)" font-family="'Liberation Sans', sans-serif" font-size="15.5" fill="#000" textLength="170.6" lengthAdjust="spacingAndGlyphs">Steps per fuel equivalent</text>
</svg></body></html>
